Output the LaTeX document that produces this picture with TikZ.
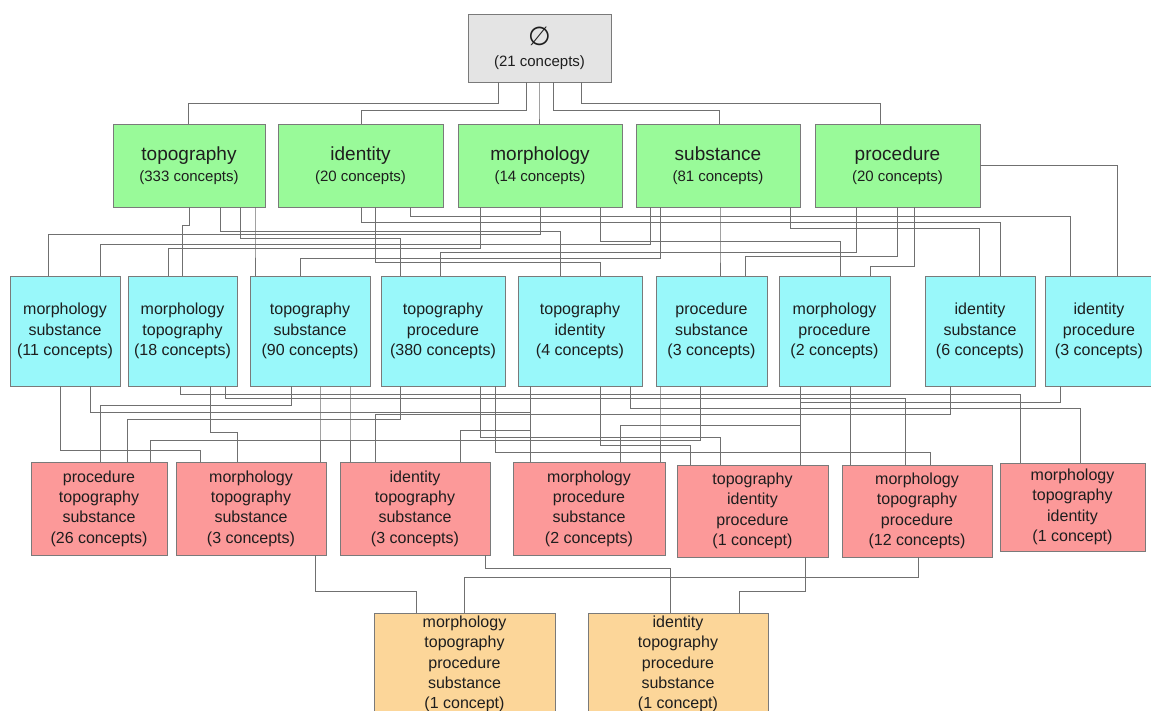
\documentclass[tikz,border=0pt]{standalone}
\usepackage{fontspec}
\setmainfont{Liberation Sans}
\newfontfamily\symfnt{DejaVu Sans}
\definecolor{gfill}{HTML}{99FA99}
\definecolor{cfill}{HTML}{99F8FA}
\definecolor{rfill}{HTML}{FC9999}
\definecolor{ofill}{HTML}{FCD699}
\definecolor{efill}{HTML}{E4E4E4}
\definecolor{boxline}{HTML}{7A7A7A}
\definecolor{wirec}{HTML}{707070}
\definecolor{txt}{HTML}{1E1E1E}
\newcommand\wire[5]{\draw[wire] (#1.south -| #2,0) -- (#2,#3) -- (#5,#3) -- (#4.north -| #5,0);}
\begin{document}
\begin{tikzpicture}[x=1pt,y=-1pt,
  bx/.style={draw=boxline, line width=0.8pt, inner sep=0pt, align=center, text=txt},
  gbox/.style={bx, fill=gfill, font=\fontsize{15}{21}\selectfont},
  cbox/.style={bx, fill=cfill, font=\fontsize{16}{20.3}\selectfont},
  rbox/.style={bx, fill=rfill, font=\fontsize{16}{20.3}\selectfont},
  obox/.style={bx, fill=ofill, font=\fontsize{16}{20.3}\selectfont},
  wire/.style={draw=wirec, line width=0.7pt}]
\useasboundingbox (0,0) rectangle (1151,711);
\fill[white] (0,0) rectangle (1151,711);

% top
\node[bx, fill=efill, minimum width=143pt, minimum height=68pt] (empty) at (539.5,48)
  {{\symfnt\fontsize{26}{28}\selectfont ∅}\\[9pt]{\fontsize{15}{18}\selectfont (21 concepts)}};

% level 1
\node[gbox, minimum width=152pt, minimum height=83pt] (topo) at (189,165.5) {{\fontsize{19}{21}\selectfont topography}\\(333 concepts)};
\node[gbox, minimum width=165pt, minimum height=83pt] (iden) at (360.5,165.5) {{\fontsize{19}{21}\selectfont identity}\\(20 concepts)};
\node[gbox, minimum width=164pt, minimum height=83pt] (morph) at (540,165.5) {{\fontsize{19}{21}\selectfont morphology}\\(14 concepts)};
\node[gbox, minimum width=164pt, minimum height=83pt] (subst) at (718,165.5) {{\fontsize{19}{21}\selectfont substance}\\(81 concepts)};
\node[gbox, minimum width=165pt, minimum height=83pt] (proc) at (897.5,165.5) {{\fontsize{19}{21}\selectfont procedure}\\(20 concepts)};

% level 2
\node[cbox, minimum width=110pt, minimum height=110pt] (ms) at (65,331) {morphology\\substance\\(11 concepts)};
\node[cbox, minimum width=109pt, minimum height=110pt] (mt) at (182.5,331) {morphology\\topography\\(18 concepts)};
\node[cbox, minimum width=120pt, minimum height=110pt] (ts) at (310,331) {topography\\substance\\(90 concepts)};
\node[cbox, minimum width=124pt, minimum height=110pt] (tp) at (443,331) {topography\\procedure\\(380 concepts)};
\node[cbox, minimum width=124pt, minimum height=110pt] (ti) at (580,331) {topography\\identity\\(4 concepts)};
\node[cbox, minimum width=111pt, minimum height=110pt] (ps) at (711.5,331) {procedure\\substance\\(3 concepts)};
\node[cbox, minimum width=111pt, minimum height=110pt] (mp) at (834.5,331) {morphology\\procedure\\(2 concepts)};
\node[cbox, minimum width=110pt, minimum height=110pt] (is) at (980,331) {identity\\substance\\(6 concepts)};
\node[cbox, minimum width=108pt, minimum height=110pt] (ip) at (1099,331) {identity\\procedure\\(3 concepts)};

% level 3
\node[rbox, minimum width=136pt, minimum height=93pt] (pts) at (99,508.5) {procedure\\topography\\substance\\(26 concepts)};
\node[rbox, minimum width=150pt, minimum height=93pt] (mts) at (251,508.5) {morphology\\topography\\substance\\(3 concepts)};
\node[rbox, minimum width=150pt, minimum height=93pt] (its) at (415,508.5) {identity\\topography\\substance\\(3 concepts)};
\node[rbox, minimum width=152pt, minimum height=93pt] (mps) at (589,508.5) {morphology\\procedure\\substance\\(2 concepts)};
\node[rbox, minimum width=151pt, minimum height=92pt] (tip) at (752.5,511) {topography\\identity\\procedure\\(1 concept)};
\node[rbox, minimum width=150pt, minimum height=92pt] (mtp) at (917,511) {morphology\\topography\\procedure\\(12 concepts)};
\node[rbox, minimum width=145pt, minimum height=88pt] (mti) at (1072.5,507) {morphology\\topography\\identity\\(1 concept)};

% level 4
\node[obox, minimum width=181pt, minimum height=102pt] (mtps) at (464.5,664) {morphology\\topography\\procedure\\substance\\(1 concept)};
\node[obox, minimum width=180pt, minimum height=102pt] (itps) at (678,664) {identity\\topography\\procedure\\substance\\(1 concept)};

% empty -> level 1
\wire{empty}{498}{103}{topo}{188}
\wire{empty}{526}{110}{iden}{361}
\wire{empty}{539}{115}{morph}{539}
\wire{empty}{553}{110}{subst}{719}
\wire{empty}{581}{103}{proc}{880}

% level 1 -> level 2
\wire{topo}{189}{225}{mt}{182}
\wire{topo}{255}{240}{ts}{255}
\wire{topo}{240}{238}{tp}{400}
\wire{topo}{220}{231}{ti}{560}
\wire{iden}{375}{262}{ti}{600}
\wire{iden}{361}{222}{is}{1000}
\wire{iden}{410}{216}{ip}{1070}
\wire{morph}{540}{234}{ms}{48}
\wire{morph}{480}{248}{mt}{168}
\wire{morph}{600}{241}{mp}{840}
\wire{subst}{650}{244}{ms}{100}
\wire{subst}{660}{258}{ts}{300}
\wire{subst}{720}{250}{ps}{720}
\wire{subst}{790}{228}{is}{979}
\wire{proc}{856}{252}{tp}{440}
\wire{proc}{897}{256}{ps}{745}
\wire{proc}{914}{266}{mp}{870}
\draw[wire] (proc.east |- 0,165) -- (1117,165) -- (ip.north -| 1117,0);

% level 2 -> level 3
\wire{ts}{291}{405}{pts}{100}
\wire{tp}{400}{419}{pts}{127}
\wire{ps}{700}{440}{pts}{150}
\wire{mt}{210}{432}{mts}{237}
\wire{ms}{60}{450}{mts}{200}
\wire{ts}{320}{420}{mts}{320}
\wire{ti}{530}{430}{its}{460}
\wire{ts}{350}{420}{its}{350}
\wire{is}{950}{414}{its}{375}
\wire{mp}{800}{425}{mps}{620}
\wire{ms}{90}{412}{mps}{530}
\wire{ps}{660}{420}{mps}{660}
\wire{ti}{600}{445}{tip}{690}
\wire{tp}{480}{437}{tip}{720}
\wire{ip}{1060}{402}{tip}{800}
\wire{mt}{225}{398}{mtp}{905}
\wire{mp}{850}{420}{mtp}{850}
\wire{tp}{495}{452}{mtp}{930}
\wire{mt}{180}{394}{mti}{1020}
\wire{ti}{630}{408}{mti}{1080}

% level 3 -> level 4
\wire{mts}{315}{591}{mtps}{416}
\wire{mtp}{918}{577}{mtps}{464}
\wire{tip}{805}{591}{itps}{739}
\wire{its}{485}{568}{itps}{670}
\end{tikzpicture}
\end{document}
